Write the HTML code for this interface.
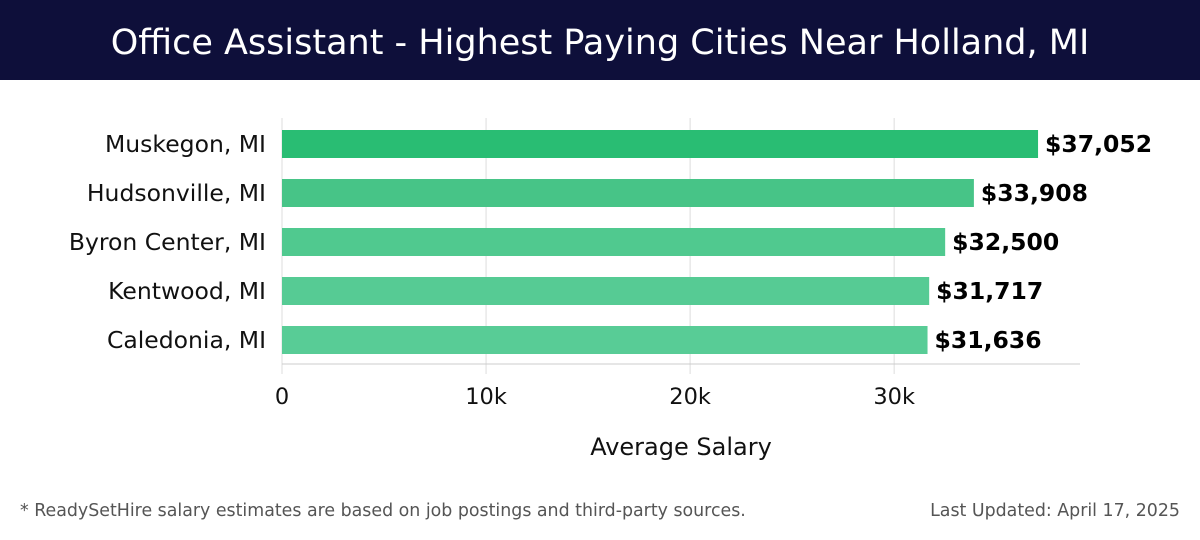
<!DOCTYPE html>
<html><head><meta charset="utf-8"><style>
body{margin:0;width:1200px;height:540px;background:#fff;font-family:"DejaVu Sans","Liberation Sans",sans-serif;overflow:hidden}
#hdr{position:absolute;left:0;top:0;width:1200px;height:80px;background:#0e0f3a;color:#fff;font-size:35px;text-align:center;line-height:86px;font-weight:normal}
.foot{position:absolute;top:501px;font-size:17.4px;color:#555}
</style></head><body>
<div id="hdr">Office Assistant - Highest Paying Cities Near Holland, MI</div>
<svg id="c" width="1200" height="540" style="position:absolute;left:0;top:0"></svg>
<div class="foot" style="left:20px">* ReadySetHire salary estimates are based on job postings and third-party sources.</div>
<div class="foot" style="right:20px">Last Updated: April 17, 2025</div>
<script>
const categories=["Muskegon, MI","Hudsonville, MI","Byron Center, MI","Kentwood, MI","Caledonia, MI"];
const values=[37052,33908,32500,31717,31636];
const ticks=[0,10000,20000,30000];
const tickLabels=["0","10k","20k","30k"];
const colors=["#29bd73","#47c487","#50c98f","#56cb94","#58cc96"];
const svg=document.getElementById('c');const NS="http://www.w3.org/2000/svg";
const x=v=>282+v*0.020405;const y=i=>130+i*49;
function mk(t,a,txt){const e=document.createElementNS(NS,t);for(const k in a)e.setAttribute(k,a[k]);if(txt!=null)e.textContent=txt;svg.appendChild(e);return e;}
ticks.forEach((t,i)=>{
const g=mk('line',{x1:x(t),x2:x(t),y1:118,y2:374,stroke:'#ddd','stroke-width':1});


const l=mk('text',{x:x(t),y:404,'text-anchor':'middle','font-size':22.5,fill:'#111'},tickLabels[i]);


});
const ax=mk('line',{x1:282,x2:1080,y1:364,y2:364,stroke:'#ccc','stroke-width':1});


categories.forEach((c,i)=>{
const b=mk('rect',{x:x(0),y:y(i),width:x(values[i])-x(0),height:28,fill:colors[i]});


const l=mk('text',{x:266,y:y(i)+22,'text-anchor':'end','font-size':23.5,fill:'#111'},c);


const v=mk('text',{x:x(values[i])+7,y:y(i)+22,'font-size':23.5,'font-weight':'bold',fill:'#000'},'$'+values[i].toLocaleString('en-US'));


});
const t=mk('text',{x:681,y:455,'text-anchor':'middle','font-size':24,fill:'#111'},'Average Salary');


</script>
</body></html>
